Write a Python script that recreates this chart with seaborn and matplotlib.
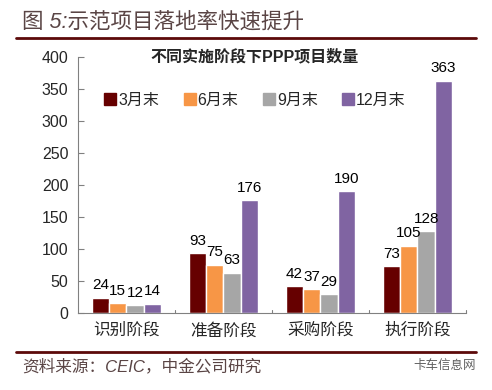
import matplotlib
matplotlib.use("Agg")
import matplotlib.pyplot as plt
import seaborn as sns
import pandas as pd
from matplotlib.lines import Line2D

stages = ["识别阶段", "准备阶段", "采购阶段", "执行阶段"]
periods = ["3月末", "6月末", "9月末", "12月末"]
v_mar = [24, 93, 42, 73]
v_jun = [15, 75, 37, 105]
v_sep = [12, 63, 29, 128]
v_dec = [14, 176, 190, 363]
colors = ["#660000", "#F79646", "#A6A6A6", "#8064A2"]
yticks = [0, 50, 100, 150, 200, 250, 300, 350, 400]

sns.set_style("white")
plt.rcParams['font.family'] = ['Liberation Sans', 'Noto Sans CJK SC', 'DejaVu Sans']

rows = []
for p, vals in zip(periods, [v_mar, v_jun, v_sep, v_dec]):
    for s, v in zip(stages, vals):
        rows.append({"stage": s, "period": p, "value": v})
df = pd.DataFrame(rows)

fig = plt.figure(figsize=(4.92, 3.90), dpi=100)
ax = fig.add_axes([0.1585, 0.1974, 0.947 - 0.1585, 0.854 - 0.1974])
sns.barplot(data=df, x="stage", y="value", hue="period", order=stages,
            hue_order=periods, palette=colors, width=0.72, saturation=1,
            ax=ax, errorbar=None, legend=False)

for cont in ax.containers:
    ax.bar_label(cont, padding=4, fontsize=11, color="black")

ax.set_ylim(0, 400)
ax.set_xlim(-0.5, 3.5)
ax.set_yticks(yticks)
ax.set_yticklabels([str(t) for t in yticks], fontsize=11.5)
ax.set_xlabel("")
ax.set_ylabel("")
ax.tick_params(axis='x', length=0, labelsize=12, pad=7)
ax.tick_params(axis='y', direction='in', length=4, color='#808080', pad=7, left=True)
for sp in ["top", "right"]:
    ax.spines[sp].set_visible(False)
for sp in ["left", "bottom"]:
    ax.spines[sp].set_color("#808080")
    ax.spines[sp].set_linewidth(0.8)
# boundary ticks on x axis
for b in [0.5, 1.5, 2.5, 3.5]:
    ax.plot([b, b], [0, 5], color="#808080", lw=0.8, clip_on=False)

fig.text(255 / 492, 1 - 57 / 390, "不同实施阶段下PPP项目数量",
         ha="center", va="center", fontsize=11.5, fontweight="bold")

handles = [Line2D([0], [0], marker='s', linestyle='', markersize=8,
                  markerfacecolor=c, markeredgecolor=c) for c in colors]
ax.legend(handles, periods, loc="upper left", bbox_to_anchor=(0.03, 0.915),
          ncol=4, frameon=False, fontsize=11.5, handletextpad=0.1,
          columnspacing=1.5, handlelength=0.8)

# header and footer
fig.text(22 / 492, 1 - 22 / 390, "图 5:示范项目落地率快速提升", fontsize=15.5,
         color="#5a4545", ha="left", va="center", style="italic")
fig.add_artist(Line2D([16 / 492, 476 / 492], [1 - 38 / 390, 1 - 38 / 390],
                      color="#5c0a0a", lw=2))
fig.add_artist(Line2D([16 / 492, 476 / 492], [1 - 352 / 390, 1 - 352 / 390],
                      color="#5c0a0a", lw=2))
fig.text(22 / 492, 1 - 366 / 390, "资料来源：CEIC，中金公司研究", fontsize=12,
         color="#5a4545", ha="left", va="center", style="italic")
fig.text(476 / 492, 1 - 366 / 390, "卡车信息网", fontsize=9,
         color="#606060", ha="right", va="center")

fig.savefig("out.png", dpi=100)
